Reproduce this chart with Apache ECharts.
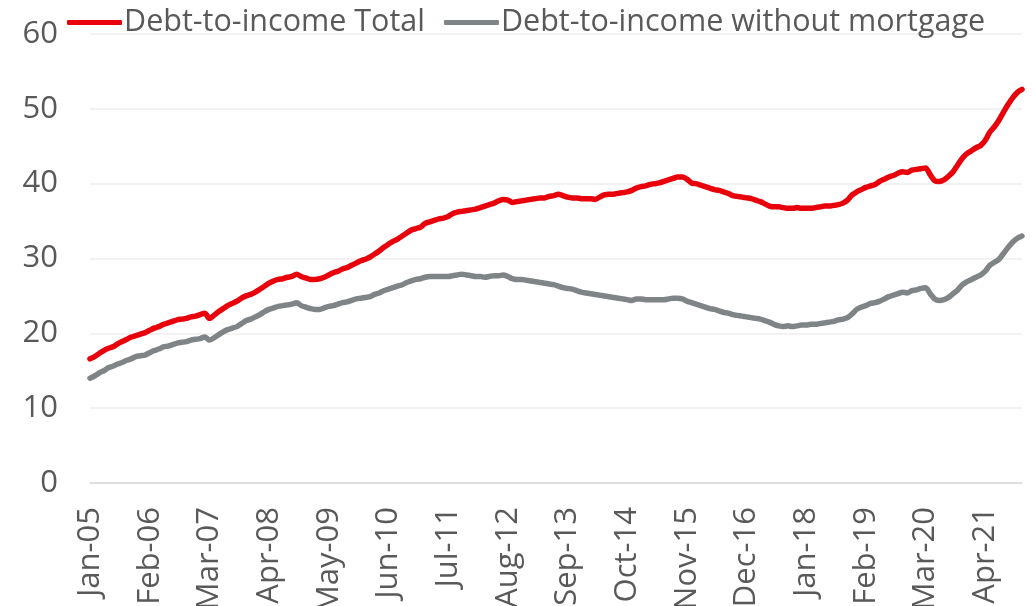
<!DOCTYPE html>
<html>
<head>
<meta charset="utf-8">
<script src="https://cdn.jsdelivr.net/npm/echarts@6/dist/echarts.min.js"></script>
<style>
  html, body { margin: 0; padding: 0; background: #ffffff; }
  #chart { width: 1035px; height: 606px; }
</style>
</head>
<body>
<div id="chart"></div>
<script>
// Monthly series, Jan-2005 .. Dec-2021
const monthNames = ['Jan','Feb','Mar','Apr','May','Jun','Jul','Aug','Sep','Oct','Nov','Dec'];
const firstYear = 2005;
const lastYear = 2021;

const categories = [];
for (let y = firstYear; y <= lastYear; y++) {
  for (let m = 0; m < 12; m++) {
    categories.push(monthNames[m] + '-' + String(y % 100).padStart(2, '0'));
  }
}

const seriesNames = ['Debt-to-income Total', 'Debt-to-income without mortgage'];

const debtToIncomeTotal = [
  16.6, 16.9, 17.3, 17.7, 18.0, 18.2, 18.6, 18.9, 19.2, 19.5, 19.7, 19.9,
  20.1, 20.4, 20.7, 20.9, 21.2, 21.4, 21.6, 21.8, 21.9, 22.0, 22.2, 22.3,
  22.5, 22.7, 22.0, 22.4, 22.9, 23.3, 23.7, 24.0, 24.3, 24.7, 25.0, 25.2,
  25.5, 25.9, 26.3, 26.7, 27.0, 27.2, 27.3, 27.5, 27.6, 27.9, 27.6, 27.4,
  27.2, 27.2, 27.3, 27.5, 27.8, 28.1, 28.3, 28.6, 28.8, 29.1, 29.4, 29.7,
  29.9, 30.2, 30.6, 31.0, 31.5, 31.9, 32.3, 32.6, 33.0, 33.4, 33.8, 34.0,
  34.2, 34.7, 34.9, 35.1, 35.3, 35.4, 35.6, 36.0, 36.2, 36.3, 36.4, 36.5,
  36.6, 36.8, 37.0, 37.2, 37.4, 37.7, 37.9, 37.8, 37.5, 37.6, 37.7, 37.8,
  37.9, 38.0, 38.1, 38.1, 38.3, 38.4, 38.6, 38.4, 38.2, 38.1, 38.1, 38.0,
  38.0, 38.0, 37.9, 38.2, 38.5, 38.6, 38.6, 38.7, 38.8, 38.9, 39.1, 39.4,
  39.6, 39.7, 39.9, 40.0, 40.1, 40.3, 40.5, 40.7, 40.9, 40.9, 40.6, 40.1,
  40.0, 39.8, 39.6, 39.4, 39.2, 39.1, 38.9, 38.7, 38.4, 38.3, 38.2, 38.1,
  38.0, 37.8, 37.6, 37.3, 37.0, 36.9, 36.9, 36.8, 36.7, 36.7, 36.8, 36.7,
  36.7, 36.7, 36.8, 36.9, 37.0, 37.0, 37.1, 37.2, 37.4, 37.8, 38.5, 38.9,
  39.2, 39.5, 39.7, 39.9, 40.3, 40.6, 40.9, 41.1, 41.4, 41.6, 41.5, 41.8,
  41.9, 42.0, 42.1, 41.2, 40.4, 40.3, 40.5, 41.0, 41.6, 42.5, 43.4, 44.0,
  44.4, 44.8, 45.1, 45.8, 46.9, 47.6, 48.5, 49.6, 50.6, 51.5, 52.2, 52.6
];

const debtToIncomeNoMortgage = [
  14.0, 14.3, 14.7, 15.0, 15.4, 15.6, 15.9, 16.1, 16.4, 16.6, 16.9, 17.0,
  17.1, 17.4, 17.7, 17.9, 18.2, 18.3, 18.5, 18.7, 18.8, 18.9, 19.1, 19.2,
  19.3, 19.5, 19.1, 19.4, 19.8, 20.2, 20.5, 20.7, 20.9, 21.3, 21.7, 21.9,
  22.2, 22.5, 22.9, 23.2, 23.4, 23.6, 23.7, 23.8, 23.9, 24.1, 23.7, 23.5,
  23.3, 23.2, 23.2, 23.4, 23.6, 23.7, 23.9, 24.1, 24.2, 24.4, 24.6, 24.7,
  24.8, 24.9, 25.2, 25.4, 25.7, 25.9, 26.1, 26.3, 26.5, 26.8, 27.0, 27.2,
  27.3, 27.5, 27.6, 27.6, 27.6, 27.6, 27.6, 27.7, 27.8, 27.9, 27.8, 27.7,
  27.6, 27.6, 27.5, 27.6, 27.7, 27.7, 27.8, 27.6, 27.3, 27.2, 27.2, 27.1,
  27.0, 26.9, 26.8, 26.7, 26.6, 26.5, 26.3, 26.1, 26.0, 25.9, 25.7, 25.5,
  25.4, 25.3, 25.2, 25.1, 25.0, 24.9, 24.8, 24.7, 24.6, 24.5, 24.4, 24.6,
  24.6, 24.5, 24.5, 24.5, 24.5, 24.5, 24.6, 24.7, 24.7, 24.6, 24.3, 24.1,
  23.9, 23.7, 23.5, 23.3, 23.2, 23.0, 22.8, 22.7, 22.5, 22.4, 22.3, 22.2,
  22.1, 22.0, 21.9, 21.7, 21.5, 21.2, 21.0, 20.9, 21.0, 20.9, 21.0, 21.1,
  21.1, 21.2, 21.2, 21.3, 21.4, 21.5, 21.6, 21.8, 21.9, 22.1, 22.6, 23.2,
  23.5, 23.7, 24.0, 24.1, 24.3, 24.6, 24.9, 25.1, 25.3, 25.5, 25.4, 25.7,
  25.8, 26.0, 26.1, 25.3, 24.6, 24.4, 24.5, 24.8, 25.3, 25.8, 26.5, 26.9,
  27.2, 27.5, 27.8, 28.3, 29.1, 29.5, 29.9, 30.7, 31.5, 32.2, 32.7, 33.0
];

const yTicks = { min: 0, max: 60, interval: 10 };

const textColor = '#595959';
const fontFamily = '"Open Sans", "Noto Sans", sans-serif';
const fontSize = 31;
const colors = ['#e8000b', '#7f8487'];

const chart = echarts.init(document.getElementById('chart'), null, { renderer: 'canvas' });

chart.setOption({
  animation: false,
  backgroundColor: '#ffffff',
  textStyle: { fontFamily: fontFamily },
  legend: {
    left: 62,
    top: 2,
    icon: 'roundRect',
    itemWidth: 55,
    itemHeight: 5,
    itemGap: 19,
    textStyle: { color: textColor, fontSize: 30.5, fontFamily: fontFamily, padding: [0, 0, 0, -3] },
    data: seriesNames
  },
  grid: {
    left: 90,
    right: 13,
    top: 34,
    bottom: 123,
    containLabel: false,
    outerBoundsMode: 'none'
  },
  xAxis: {
    type: 'category',
    data: categories,
    boundaryGap: false,
    axisLine: { show: true, lineStyle: { color: '#d9d9d9', width: 1.5 } },
    axisTick: { show: false },
    axisLabel: {
      interval: 12,
      rotate: 90,
      margin: 24,
      color: textColor,
      fontSize: fontSize,
      fontFamily: fontFamily
    },
    splitLine: { show: false }
  },
  yAxis: {
    type: 'value',
    min: yTicks.min,
    max: yTicks.max,
    interval: yTicks.interval,
    axisLine: { show: false },
    axisTick: { show: false },
    axisLabel: {
      margin: 32,
      color: textColor,
      fontSize: fontSize,
      fontFamily: fontFamily
    },
    splitLine: { show: true, lineStyle: { color: '#eeeeee', width: 1.5 } }
  },
  series: [
    {
      name: seriesNames[0],
      type: 'line',
      data: debtToIncomeTotal,
      symbol: 'none',
      smooth: 0.3,
      itemStyle: { color: colors[0] },
      lineStyle: { color: colors[0], width: 5.5, cap: 'round', join: 'round' }
    },
    {
      name: seriesNames[1],
      type: 'line',
      data: debtToIncomeNoMortgage,
      symbol: 'none',
      smooth: 0.3,
      itemStyle: { color: colors[1] },
      lineStyle: { color: colors[1], width: 5.5, cap: 'round', join: 'round' }
    }
  ]
});
</script>
</body>
</html>
